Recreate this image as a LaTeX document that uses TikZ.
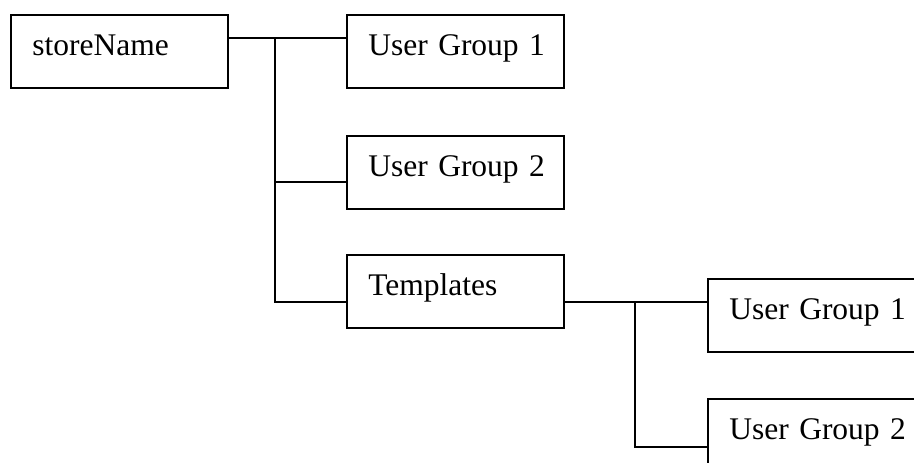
\documentclass[tikz,border=0pt]{standalone}
\usepackage{fontspec}
\setmainfont{Liberation Serif}
\def\bw{217pt}
\def\bh{73pt}
\def\pad{11pt}
\def\lw{1.6pt}

\begin{document}
\begin{tikzpicture}[x=1pt,y=-1pt,
  box/.style={draw, line width=\lw, anchor=north west, minimum height=\bh,
    minimum width=\bw, text width=196pt, inner xsep=0pt, inner ysep=0pt,
    align=left, execute at begin node={\hspace*{\pad}},
    text height=22pt, text depth=13pt, font=\fontsize{31.5}{38}\selectfont},
  wire/.style={line width=\lw}]

%page is 914 x 463, boxes on the right run off the edge
\useasboundingbox (0,0) rectangle (914,463);
\clip (0,0) rectangle (914,463);

\node[box] (store) at (10,14) {storeName};
\node[box] (grpA) at (346,14) {User Group 1};
\node[box] (grpB) at (346,135) {User Group 2};
\node[box] (tpl) at (346,254) {Templates};
\node[box] (tgrpA) at (707,278) {User Group 1};
\node[box] (tgrpB) at (707,398) {User Group 2};

%spine points of the tree
\coordinate (s0) at (275,38);
\coordinate (s1) at (275,182);
\coordinate (s2) at (275,302);
\coordinate (t0) at (635,302);
\coordinate (t1) at (635,447);

\draw[wire] (s0 -| store.east) -- (s0 -| grpA.west);
\draw[wire] (s0) -- (s2) -- (s2 -| tpl.west);
\draw[wire] (s1) -- (s1 -| grpB.west);

\draw[wire] (t0 -| tpl.east) -- (t0 -| tgrpA.west);
\draw[wire] (t0) -- (t1) -- (t1 -| tgrpB.west);

\end{tikzpicture}
\end{document}
